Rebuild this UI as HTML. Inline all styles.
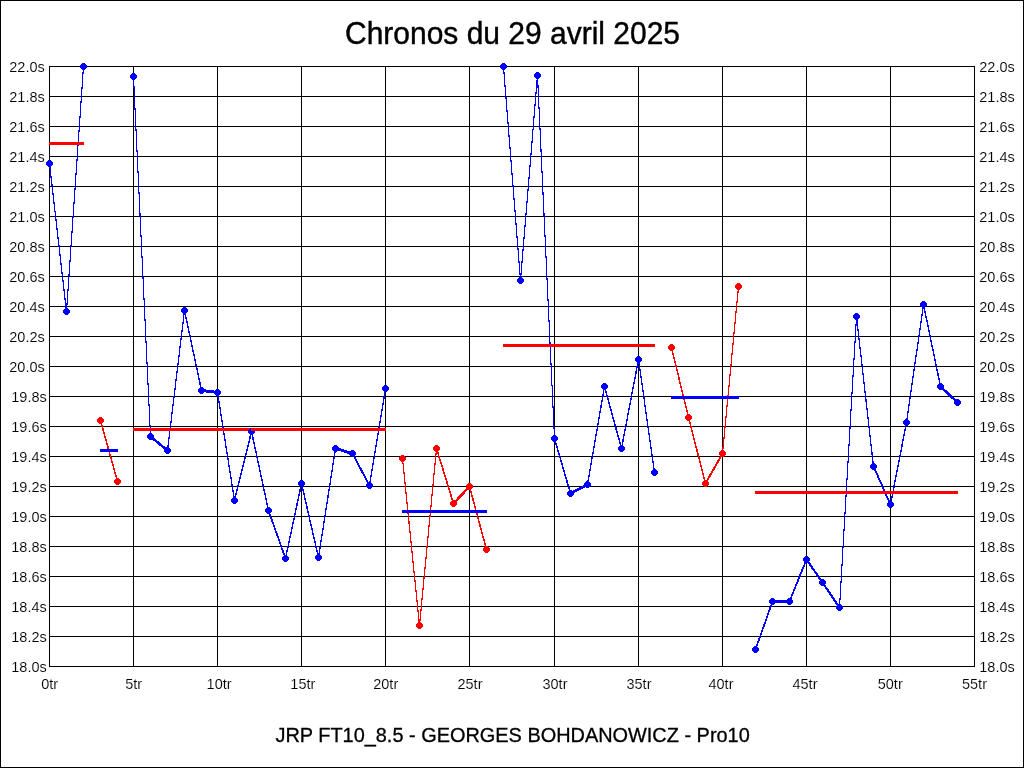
<!DOCTYPE html>
<html lang="fr"><head><meta charset="utf-8"><title>Chronos du 29 avril 2025</title>
<style>html,body{margin:0;padding:0;background:#fff;overflow:hidden}svg{display:block;will-change:transform}text{font-family:"Liberation Sans",sans-serif;fill:#000}.l{font-size:14.5px;stroke:#fff;stroke-width:.12px}</style></head><body>
<svg width="1024" height="768" viewBox="0 0 1024 768">
<rect x="0" y="0" width="1024" height="768" fill="#fff"/>
<g shape-rendering="crispEdges">
<rect x="0.5" y="0.5" width="1023" height="767" fill="none" stroke="#000" stroke-width="1"/>
<path d="M49 66.5H975M49 96.5H975M49 126.5H975M49 156.5H975M49 186.5H975M49 216.5H975M49 246.5H975M49 276.5H975M49 306.5H975M49 336.5H975M49 366.5H975M49 396.5H975M49 426.5H975M49 456.5H975M49 486.5H975M49 516.5H975M49 546.5H975M49 576.5H975M49 606.5H975M49 636.5H975M49 666.5H975M49.5 66V667M133.5 66V667M217.5 66V667M301.5 66V667M385.5 66V667M469.5 66V667M554.5 66V667M638.5 66V667M722.5 66V667M806.5 66V667M890.5 66V667M974.5 66V667" stroke="#000" stroke-width="1" fill="none"/>
<polyline points="49.5,162.5 66.5,310.5 83.5,65.5" fill="none" stroke="#0000ff" stroke-width="1"/>
<polyline points="49.5,163.5 66.5,311.5 83.5,66.5" fill="none" stroke="#0000ff" stroke-width="1"/>
<polyline points="49.5,164.5 66.5,312.5 83.5,67.5" fill="none" stroke="#0000ff" stroke-width="1"/>
<polyline points="100.5,419.5 117.5,480.5" fill="none" stroke="#ff0000" stroke-width="1"/>
<polyline points="100.5,420.5 117.5,481.5" fill="none" stroke="#ff0000" stroke-width="1"/>
<polyline points="100.5,421.5 117.5,482.5" fill="none" stroke="#ff0000" stroke-width="1"/>
<polyline points="133.5,75.5 150.5,435.5 167.5,449.5 184.5,309.5 201.5,389.5 217.5,391.5 234.5,499.5 251.5,430.5 268.5,509.5 285.5,557.5 301.5,482.5 318.5,556.5 335.5,447.5 352.5,452.5 369.5,484.5 385.5,387.5" fill="none" stroke="#0000ff" stroke-width="1"/>
<polyline points="133.5,76.5 150.5,436.5 167.5,450.5 184.5,310.5 201.5,390.5 217.5,392.5 234.5,500.5 251.5,431.5 268.5,510.5 285.5,558.5 301.5,483.5 318.5,557.5 335.5,448.5 352.5,453.5 369.5,485.5 385.5,388.5" fill="none" stroke="#0000ff" stroke-width="1"/>
<polyline points="133.5,77.5 150.5,437.5 167.5,451.5 184.5,311.5 201.5,391.5 217.5,393.5 234.5,501.5 251.5,432.5 268.5,511.5 285.5,559.5 301.5,484.5 318.5,558.5 335.5,449.5 352.5,454.5 369.5,486.5 385.5,389.5" fill="none" stroke="#0000ff" stroke-width="1"/>
<polyline points="402.5,457.5 419.5,624.5 436.5,447.5 453.5,502.5 469.5,485.5 486.5,548.5" fill="none" stroke="#ff0000" stroke-width="1"/>
<polyline points="402.5,458.5 419.5,625.5 436.5,448.5 453.5,503.5 469.5,486.5 486.5,549.5" fill="none" stroke="#ff0000" stroke-width="1"/>
<polyline points="402.5,459.5 419.5,626.5 436.5,449.5 453.5,504.5 469.5,487.5 486.5,550.5" fill="none" stroke="#ff0000" stroke-width="1"/>
<polyline points="503.5,65.5 520.5,279.5 537.5,74.5 554.5,437.5 570.5,492.5 587.5,483.5 604.5,385.5 621.5,447.5 638.5,358.5 654.5,471.5" fill="none" stroke="#0000ff" stroke-width="1"/>
<polyline points="503.5,66.5 520.5,280.5 537.5,75.5 554.5,438.5 570.5,493.5 587.5,484.5 604.5,386.5 621.5,448.5 638.5,359.5 654.5,472.5" fill="none" stroke="#0000ff" stroke-width="1"/>
<polyline points="503.5,67.5 520.5,281.5 537.5,76.5 554.5,439.5 570.5,494.5 587.5,485.5 604.5,387.5 621.5,449.5 638.5,360.5 654.5,473.5" fill="none" stroke="#0000ff" stroke-width="1"/>
<polyline points="671.5,346.5 688.5,416.5 705.5,482.5 722.5,452.5 738.5,285.5" fill="none" stroke="#ff0000" stroke-width="1"/>
<polyline points="671.5,347.5 688.5,417.5 705.5,483.5 722.5,453.5 738.5,286.5" fill="none" stroke="#ff0000" stroke-width="1"/>
<polyline points="671.5,348.5 688.5,418.5 705.5,484.5 722.5,454.5 738.5,287.5" fill="none" stroke="#ff0000" stroke-width="1"/>
<polyline points="755.5,648.5 772.5,600.5 789.5,600.5 806.5,558.5 822.5,581.5 839.5,606.5 856.5,315.5 873.5,465.5 890.5,503.5 906.5,421.5 923.5,303.5 940.5,385.5 957.5,401.5" fill="none" stroke="#0000ff" stroke-width="1"/>
<polyline points="755.5,649.5 772.5,601.5 789.5,601.5 806.5,559.5 822.5,582.5 839.5,607.5 856.5,316.5 873.5,466.5 890.5,504.5 906.5,422.5 923.5,304.5 940.5,386.5 957.5,402.5" fill="none" stroke="#0000ff" stroke-width="1"/>
<polyline points="755.5,650.5 772.5,602.5 789.5,602.5 806.5,560.5 822.5,583.5 839.5,608.5 856.5,317.5 873.5,467.5 890.5,505.5 906.5,423.5 923.5,305.5 940.5,387.5 957.5,403.5" fill="none" stroke="#0000ff" stroke-width="1"/>
</g>
<path shape-rendering="crispEdges" fill="#0000ff" d="M48 160h3v1h1v1h1v3h-1v1h-1v1h-3v-1h-1v-1h-1v-3h1v-1h1zM65 308h3v1h1v1h1v3h-1v1h-1v1h-3v-1h-1v-1h-1v-3h1v-1h1zM82 63h3v1h1v1h1v3h-1v1h-1v1h-3v-1h-1v-1h-1v-3h1v-1h1zM132 73h3v1h1v1h1v3h-1v1h-1v1h-3v-1h-1v-1h-1v-3h1v-1h1zM149 433h3v1h1v1h1v3h-1v1h-1v1h-3v-1h-1v-1h-1v-3h1v-1h1zM166 447h3v1h1v1h1v3h-1v1h-1v1h-3v-1h-1v-1h-1v-3h1v-1h1zM183 307h3v1h1v1h1v3h-1v1h-1v1h-3v-1h-1v-1h-1v-3h1v-1h1zM200 387h3v1h1v1h1v3h-1v1h-1v1h-3v-1h-1v-1h-1v-3h1v-1h1zM216 389h3v1h1v1h1v3h-1v1h-1v1h-3v-1h-1v-1h-1v-3h1v-1h1zM233 497h3v1h1v1h1v3h-1v1h-1v1h-3v-1h-1v-1h-1v-3h1v-1h1zM250 428h3v1h1v1h1v3h-1v1h-1v1h-3v-1h-1v-1h-1v-3h1v-1h1zM267 507h3v1h1v1h1v3h-1v1h-1v1h-3v-1h-1v-1h-1v-3h1v-1h1zM284 555h3v1h1v1h1v3h-1v1h-1v1h-3v-1h-1v-1h-1v-3h1v-1h1zM300 480h3v1h1v1h1v3h-1v1h-1v1h-3v-1h-1v-1h-1v-3h1v-1h1zM317 554h3v1h1v1h1v3h-1v1h-1v1h-3v-1h-1v-1h-1v-3h1v-1h1zM334 445h3v1h1v1h1v3h-1v1h-1v1h-3v-1h-1v-1h-1v-3h1v-1h1zM351 450h3v1h1v1h1v3h-1v1h-1v1h-3v-1h-1v-1h-1v-3h1v-1h1zM368 482h3v1h1v1h1v3h-1v1h-1v1h-3v-1h-1v-1h-1v-3h1v-1h1zM384 385h3v1h1v1h1v3h-1v1h-1v1h-3v-1h-1v-1h-1v-3h1v-1h1zM502 63h3v1h1v1h1v3h-1v1h-1v1h-3v-1h-1v-1h-1v-3h1v-1h1zM519 277h3v1h1v1h1v3h-1v1h-1v1h-3v-1h-1v-1h-1v-3h1v-1h1zM536 72h3v1h1v1h1v3h-1v1h-1v1h-3v-1h-1v-1h-1v-3h1v-1h1zM553 435h3v1h1v1h1v3h-1v1h-1v1h-3v-1h-1v-1h-1v-3h1v-1h1zM569 490h3v1h1v1h1v3h-1v1h-1v1h-3v-1h-1v-1h-1v-3h1v-1h1zM586 481h3v1h1v1h1v3h-1v1h-1v1h-3v-1h-1v-1h-1v-3h1v-1h1zM603 383h3v1h1v1h1v3h-1v1h-1v1h-3v-1h-1v-1h-1v-3h1v-1h1zM620 445h3v1h1v1h1v3h-1v1h-1v1h-3v-1h-1v-1h-1v-3h1v-1h1zM637 356h3v1h1v1h1v3h-1v1h-1v1h-3v-1h-1v-1h-1v-3h1v-1h1zM653 469h3v1h1v1h1v3h-1v1h-1v1h-3v-1h-1v-1h-1v-3h1v-1h1zM754 646h3v1h1v1h1v3h-1v1h-1v1h-3v-1h-1v-1h-1v-3h1v-1h1zM771 598h3v1h1v1h1v3h-1v1h-1v1h-3v-1h-1v-1h-1v-3h1v-1h1zM788 598h3v1h1v1h1v3h-1v1h-1v1h-3v-1h-1v-1h-1v-3h1v-1h1zM805 556h3v1h1v1h1v3h-1v1h-1v1h-3v-1h-1v-1h-1v-3h1v-1h1zM821 579h3v1h1v1h1v3h-1v1h-1v1h-3v-1h-1v-1h-1v-3h1v-1h1zM838 604h3v1h1v1h1v3h-1v1h-1v1h-3v-1h-1v-1h-1v-3h1v-1h1zM855 313h3v1h1v1h1v3h-1v1h-1v1h-3v-1h-1v-1h-1v-3h1v-1h1zM872 463h3v1h1v1h1v3h-1v1h-1v1h-3v-1h-1v-1h-1v-3h1v-1h1zM889 501h3v1h1v1h1v3h-1v1h-1v1h-3v-1h-1v-1h-1v-3h1v-1h1zM905 419h3v1h1v1h1v3h-1v1h-1v1h-3v-1h-1v-1h-1v-3h1v-1h1zM922 301h3v1h1v1h1v3h-1v1h-1v1h-3v-1h-1v-1h-1v-3h1v-1h1zM939 383h3v1h1v1h1v3h-1v1h-1v1h-3v-1h-1v-1h-1v-3h1v-1h1zM956 399h3v1h1v1h1v3h-1v1h-1v1h-3v-1h-1v-1h-1v-3h1v-1h1z"/>
<path shape-rendering="crispEdges" fill="#ff0000" d="M99 417h3v1h1v1h1v3h-1v1h-1v1h-3v-1h-1v-1h-1v-3h1v-1h1zM116 478h3v1h1v1h1v3h-1v1h-1v1h-3v-1h-1v-1h-1v-3h1v-1h1zM401 455h3v1h1v1h1v3h-1v1h-1v1h-3v-1h-1v-1h-1v-3h1v-1h1zM418 622h3v1h1v1h1v3h-1v1h-1v1h-3v-1h-1v-1h-1v-3h1v-1h1zM435 445h3v1h1v1h1v3h-1v1h-1v1h-3v-1h-1v-1h-1v-3h1v-1h1zM452 500h3v1h1v1h1v3h-1v1h-1v1h-3v-1h-1v-1h-1v-3h1v-1h1zM468 483h3v1h1v1h1v3h-1v1h-1v1h-3v-1h-1v-1h-1v-3h1v-1h1zM485 546h3v1h1v1h1v3h-1v1h-1v1h-3v-1h-1v-1h-1v-3h1v-1h1zM670 344h3v1h1v1h1v3h-1v1h-1v1h-3v-1h-1v-1h-1v-3h1v-1h1zM687 414h3v1h1v1h1v3h-1v1h-1v1h-3v-1h-1v-1h-1v-3h1v-1h1zM704 480h3v1h1v1h1v3h-1v1h-1v1h-3v-1h-1v-1h-1v-3h1v-1h1zM721 450h3v1h1v1h1v3h-1v1h-1v1h-3v-1h-1v-1h-1v-3h1v-1h1zM737 283h3v1h1v1h1v3h-1v1h-1v1h-3v-1h-1v-1h-1v-3h1v-1h1z"/>
<g shape-rendering="crispEdges">
<rect x="49" y="142" width="35" height="3" fill="#ff0000"/>
<rect x="100" y="449" width="18" height="3" fill="#0000ff"/>
<rect x="133" y="428" width="253" height="3" fill="#ff0000"/>
<rect x="402" y="510" width="85" height="3" fill="#0000ff"/>
<rect x="503" y="344" width="152" height="3" fill="#ff0000"/>
<rect x="671" y="396" width="68" height="3" fill="#0000ff"/>
<rect x="755" y="491" width="203" height="3" fill="#ff0000"/>
</g>
<path shape-rendering="crispEdges" fill="#0000ff" d="M250 428h1v7h-1v-1h-1v-1h-1v-3h1v-1h1z"/>
<text class="l" transform="translate(9.30 72.00) scale(1 1.062)">22.0s</text>
<text class="l" transform="translate(979.30 72.00) scale(1 1.062)">22.0s</text>
<text class="l" transform="translate(9.30 102.00) scale(1 1.062)">21.8s</text>
<text class="l" transform="translate(979.30 102.00) scale(1 1.062)">21.8s</text>
<text class="l" transform="translate(9.30 132.00) scale(1 1.062)">21.6s</text>
<text class="l" transform="translate(979.30 132.00) scale(1 1.062)">21.6s</text>
<text class="l" transform="translate(9.30 162.00) scale(1 1.062)">21.4s</text>
<text class="l" transform="translate(979.30 162.00) scale(1 1.062)">21.4s</text>
<text class="l" transform="translate(9.30 192.00) scale(1 1.062)">21.2s</text>
<text class="l" transform="translate(979.30 192.00) scale(1 1.062)">21.2s</text>
<text class="l" transform="translate(9.30 222.00) scale(1 1.062)">21.0s</text>
<text class="l" transform="translate(979.30 222.00) scale(1 1.062)">21.0s</text>
<text class="l" transform="translate(9.30 252.00) scale(1 1.062)">20.8s</text>
<text class="l" transform="translate(979.30 252.00) scale(1 1.062)">20.8s</text>
<text class="l" transform="translate(9.30 282.00) scale(1 1.062)">20.6s</text>
<text class="l" transform="translate(979.30 282.00) scale(1 1.062)">20.6s</text>
<text class="l" transform="translate(9.30 312.00) scale(1 1.062)">20.4s</text>
<text class="l" transform="translate(979.30 312.00) scale(1 1.062)">20.4s</text>
<text class="l" transform="translate(9.30 342.00) scale(1 1.062)">20.2s</text>
<text class="l" transform="translate(979.30 342.00) scale(1 1.062)">20.2s</text>
<text class="l" transform="translate(9.30 372.00) scale(1 1.062)">20.0s</text>
<text class="l" transform="translate(979.30 372.00) scale(1 1.062)">20.0s</text>
<text class="l" transform="translate(11.30 402.00) scale(1 1.062)">19.8s</text>
<text class="l" transform="translate(979.30 402.00) scale(1 1.062)">19.8s</text>
<text class="l" transform="translate(11.30 432.00) scale(1 1.062)">19.6s</text>
<text class="l" transform="translate(979.30 432.00) scale(1 1.062)">19.6s</text>
<text class="l" transform="translate(11.30 462.00) scale(1 1.062)">19.4s</text>
<text class="l" transform="translate(979.30 462.00) scale(1 1.062)">19.4s</text>
<text class="l" transform="translate(11.30 492.00) scale(1 1.062)">19.2s</text>
<text class="l" transform="translate(979.30 492.00) scale(1 1.062)">19.2s</text>
<text class="l" transform="translate(11.30 522.00) scale(1 1.062)">19.0s</text>
<text class="l" transform="translate(979.30 522.00) scale(1 1.062)">19.0s</text>
<text class="l" transform="translate(11.30 552.00) scale(1 1.062)">18.8s</text>
<text class="l" transform="translate(979.30 552.00) scale(1 1.062)">18.8s</text>
<text class="l" transform="translate(11.30 582.00) scale(1 1.062)">18.6s</text>
<text class="l" transform="translate(979.30 582.00) scale(1 1.062)">18.6s</text>
<text class="l" transform="translate(11.30 612.00) scale(1 1.062)">18.4s</text>
<text class="l" transform="translate(979.30 612.00) scale(1 1.062)">18.4s</text>
<text class="l" transform="translate(11.30 642.00) scale(1 1.062)">18.2s</text>
<text class="l" transform="translate(979.30 642.00) scale(1 1.062)">18.2s</text>
<text class="l" transform="translate(11.30 672.00) scale(1 1.062)">18.0s</text>
<text class="l" transform="translate(979.30 672.00) scale(1 1.062)">18.0s</text>
<text class="l" transform="translate(41.25 689.00) scale(1 1.062)">0tr</text>
<text class="l" transform="translate(125.25 689.00) scale(1 1.062)">5tr</text>
<text class="l" transform="translate(206.60 689.00) scale(1 1.062)">10tr</text>
<text class="l" transform="translate(290.35 689.00) scale(1 1.062)">15tr</text>
<text class="l" transform="translate(373.25 689.00) scale(1 1.062)">20tr</text>
<text class="l" transform="translate(457.50 689.00) scale(1 1.062)">25tr</text>
<text class="l" transform="translate(542.50 689.00) scale(1 1.062)">30tr</text>
<text class="l" transform="translate(626.50 689.00) scale(1 1.062)">35tr</text>
<text class="l" transform="translate(708.50 689.00) scale(1 1.062)">40tr</text>
<text class="l" transform="translate(792.50 689.00) scale(1 1.062)">45tr</text>
<text class="l" transform="translate(877.75 689.00) scale(1 1.062)">50tr</text>
<text class="l" transform="translate(962.00 689.00) scale(1 1.062)">55tr</text>
<text transform="translate(512.5 44) scale(1 1.03)" font-size="30" text-anchor="middle" stroke="#000" stroke-width="0.4">Chronos du 29 avril 2025</text>
<text transform="translate(512.6 742) scale(1 1.06)" font-size="19.92" text-anchor="middle" stroke="#000" stroke-width="0.3">JRP FT10_8.5 - GEORGES BOHDANOWICZ - Pro10</text>
</svg></body></html>
